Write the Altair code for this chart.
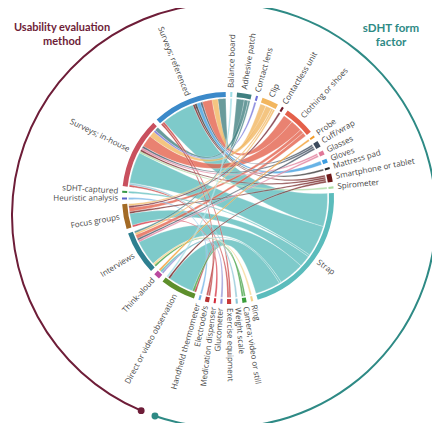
import math
import altair as alt
import pandas as pd

# ---------------- data ----------------
form_factors = ["Balance board", "Adhesive patch", "Contact lens", "Clip",
                "Contactless unit", "Clothing or shoes", "Probe", "Cuff/wrap",
                "Glasses", "Gloves", "Mattress pad", "Smartphone or tablet",
                "Spirometer", "Strap", "Ring", "Camera; video or still",
                "Weight scale", "Exercise equipment", "Glucometer",
                "Medication dispenser", "Electrode/s", "Handheld thermometer"]
ff_colors = ["#9fdde6", "#3f7f80", "#6f6fd8", "#f2b65e", "#6e1c2a", "#e4604a",
             "#f39c2b", "#3c4a5c", "#e07898", "#3d9ee0", "#2b2b2b", "#6e1a1a",
             "#a9dba0", "#5bbcbc", "#f5d38a", "#3a9d3a", "#8ac4d6", "#c83a3a",
             "#8f8fd6", "#d42b3a", "#b83232", "#6fb2e6"]

methods = ["Direct or video observation", "Think-aloud", "Interviews",
           "Focus groups", "Heuristic analysis", "sDHT-captured",
           "Surveys; in-house", "Surveys; referenced"]
method_colors = ["#5e8f2c", "#b94aa0", "#2e7f90", "#a36a25", "#5a63c8",
                 "#3a9a48", "#c8505e", "#3b89c9"]

link_method = (
    ["Surveys; referenced"] * 10 +
    ["Surveys; in-house"] * 11 +
    ["sDHT-captured"] +
    ["Heuristic analysis"] +
    ["Focus groups"] * 6 +
    ["Interviews"] * 8 +
    ["Think-aloud"] * 3 +
    ["Direct or video observation"] * 5
)
link_form = [
    # Surveys; referenced
    "Electrode/s", "Exercise equipment", "Strap", "Smartphone or tablet", "Gloves",
    "Cuff/wrap", "Clothing or shoes", "Clip", "Adhesive patch", "Mattress pad",
    # Surveys; in-house
    "Exercise equipment", "Weight scale", "Strap", "Spirometer",
    "Smartphone or tablet", "Glasses", "Cuff/wrap", "Clothing or shoes", "Clip",
    "Contact lens", "Adhesive patch",
    # sDHT-captured
    "Strap",
    # Heuristic analysis
    "Handheld thermometer",
    # Focus groups
    "Medication dispenser", "Strap", "Smartphone or tablet", "Clothing or shoes",
    "Contactless unit", "Clip",
    # Interviews
    "Camera; video or still", "Ring", "Strap", "Cuff/wrap", "Glasses",
    "Clothing or shoes", "Clip", "Adhesive patch",
    # Think-aloud
    "Glucometer", "Strap", "Probe",
    # Direct or video observation
    "Electrode/s", "Camera; video or still", "Strap", "Smartphone or tablet",
    "Balance board",
]
link_count = [
    1, 1, 17, 1, 2, 1, 5, 3, 4, 1,
    1, 1, 16, 1, 1, 1, 1, 6, 3, 1, 2,
    1,
    1,
    1, 6, 1, 2, 1, 1,
    1, 1, 13, 1, 1, 2, 1, 1,
    1, 1, 1,
    1, 1, 13, 1, 1,
]

# ---------------- layout (chord diagram geometry) ----------------
W, H = 424, 415
CX, CY = 220.0, 190.0          # ring centre (plot px)
R_OUT, R_IN, R_CH, R_LAB = 106, 101, 99.5, 110
GAP = 2.5
BX, BY, BR = 216.0, 207.5, 212.0   # outer bracket circle
MAROON, TEAL = "#6e1d38", "#2e8a85"

sectors = form_factors + methods
pos = {s: i for i, s in enumerate(sectors)}
tot = {s: 0 for s in sectors}
for m, f, c in zip(link_method, link_form, link_count):
    tot[m] += c
    tot[f] += c
unit = (360 - GAP * len(sectors)) / sum(tot.values())
start, end = {}, {}
a = GAP / 2
for s in sectors:
    start[s] = a
    end[s] = a + tot[s] * unit
    a = end[s] + GAP

# sub-arcs of each link at both ends (ordered to avoid crossings)
sub = {}
for s in sectors:
    idx = [i for i in range(len(link_count))
           if link_method[i] == s or link_form[i] == s]
    other = lambda i: link_form[i] if link_method[i] == s else link_method[i]
    idx.sort(key=lambda i: -pos[other(i)])
    cur = start[s]
    for i in idx:
        sub[(i, s)] = (cur, cur + link_count[i] * unit)
        cur += link_count[i] * unit


def pt(theta, r, cx=CX, cy=CY):
    t = math.radians(theta)
    return cx + r * math.sin(t), cy - r * math.cos(t)


def arc_pts(a0, a1, r):
    n = max(2, int(abs(a1 - a0) / 0.5) + 2)
    return [pt(a0 + (a1 - a0) * k / (n - 1), r) for k in range(n)]


def bez(p0, p2, n=40):
    out = []
    for k in range(1, n):
        t = k / n
        x = (1 - t) ** 2 * p0[0] + 2 * (1 - t) * t * CX + t ** 2 * p2[0]
        y = (1 - t) ** 2 * p0[1] + 2 * (1 - t) * t * CY + t ** 2 * p2[1]
        out.append((x, y))
    return out


rows = []
order_links = sorted(range(len(link_count)), key=lambda i: -link_count[i])
for rank, i in enumerate(order_links):
    a0, a1 = sub[(i, link_method[i])]
    b0, b1 = sub[(i, link_form[i])]
    poly = (arc_pts(a0, a1, R_CH) + bez(pt(a1, R_CH), pt(b0, R_CH)) +
            arc_pts(b0, b1, R_CH) + bez(pt(b1, R_CH), pt(a0, R_CH)))
    for k, (x, y) in enumerate(poly):
        rows.append({"cid": f"c{rank:03d}", "k": k, "x": x, "y": y,
                     "ff": link_form[i]})
chord_df = pd.DataFrame(rows)

ring_df = pd.DataFrame({
    "name": sectors,
    "t0": [math.radians(start[s]) for s in sectors],
    "t1": [math.radians(end[s]) for s in sectors],
})

lab_rows = []
for s in sectors:
    mid = (start[s] + end[s]) / 2
    x, y = pt(mid, R_LAB)
    if mid < 180:
        lab_rows.append({"name": s, "x": x, "y": y, "ang": (mid - 90) % 360, "side": "R"})
    else:
        lab_rows.append({"name": s, "x": x, "y": y, "ang": (mid + 90) % 360, "side": "L"})
lab_df = pd.DataFrame(lab_rows)

bracket_df = pd.DataFrame({
    "side": ["method", "form"],
    "t0": [math.radians(203), math.radians(2)],
    "t1": [math.radians(357), math.radians(199)],
})
dots = []
for side, th in [("method", 203), ("method", 357), ("form", 2), ("form", 199)]:
    x, y = pt(th, BR, BX, BY)
    dots.append({"side": side, "x": x, "y": y})
dot_df = pd.DataFrame(dots)

# ---------------- chart ----------------
xs = alt.Scale(domain=[0, W], nice=False, zero=False)
ys = alt.Scale(domain=[0, H], nice=False, zero=False, reverse=True)
cscale = alt.Scale(domain=sectors, range=ff_colors + method_colors)
side_scale = alt.Scale(domain=["method", "form"], range=[MAROON, TEAL])

brackets = alt.Chart(bracket_df).mark_arc(radius=BR + 1, radius2=BR - 1).encode(
    theta=alt.Theta("t0:Q", scale=None, stack=None),
    theta2="t1:Q",
    fill=alt.Fill("side:N", scale=side_scale, legend=None),
    x=alt.value(BX), y=alt.value(BY),
)
bdots = alt.Chart(dot_df).mark_circle(size=48, opacity=1).encode(
    x=alt.X("x:Q", scale=xs, axis=None),
    y=alt.Y("y:Q", scale=ys, axis=None),
    fill=alt.Fill("side:N", scale=side_scale, legend=None),
)

chords = alt.Chart(chord_df).mark_line(
    filled=True, opacity=0.78, stroke="white", strokeWidth=0.3
).encode(
    x=alt.X("x:Q", scale=xs, axis=None),
    y=alt.Y("y:Q", scale=ys, axis=None),
    detail="cid:N",
    order="k:Q",
    color=alt.Color("ff:N", scale=cscale, legend=None),
)

ring = alt.Chart(ring_df).mark_arc(radius=R_OUT, radius2=R_IN).encode(
    theta=alt.Theta("t0:Q", scale=None, stack=None),
    theta2="t1:Q",
    color=alt.Color("name:N", scale=cscale, legend=None),
    x=alt.value(CX), y=alt.value(CY),
)

lab_common = dict(font="Open Sans", fontSize=8, color="#484848", baseline="middle")
labels_r = alt.Chart(lab_df[lab_df.side == "R"]).mark_text(align="left", **lab_common).encode(
    x=alt.X("x:Q", scale=xs, axis=None),
    y=alt.Y("y:Q", scale=ys, axis=None),
    angle=alt.Angle("ang:Q", scale=None),
    text="name:N",
)
labels_l = alt.Chart(lab_df[lab_df.side == "L"]).mark_text(align="right", **lab_common).encode(
    x=alt.X("x:Q", scale=xs, axis=None),
    y=alt.Y("y:Q", scale=ys, axis=None),
    angle=alt.Angle("ang:Q", scale=None),
    text="name:N",
)

title_data = alt.Data(values=[{"a": 1}])
t_method = alt.Chart(title_data).mark_text(
    text=["Usability evaluation", "method"], font="Lato", fontWeight="bold",
    fontSize=11, lineHeight=14, color=MAROON, align="center", baseline="alphabetic"
).encode(x=alt.value(54), y=alt.value(23))
t_form = alt.Chart(title_data).mark_text(
    text=["sDHT form", "factor"], font="Lato", fontWeight="bold",
    fontSize=11.5, lineHeight=14, color=TEAL, align="center", baseline="alphabetic"
).encode(x=alt.value(383), y=alt.value(23.5))

chart = alt.layer(
    brackets, bdots, chords, ring, labels_r, labels_l, t_method, t_form
).properties(
    width=W, height=H, padding=0,
    autosize=alt.AutoSizeParams(type="none"),
).configure_view(stroke=None)

chart.save("out.html", embed_options={"renderer": "svg", "actions": False})
